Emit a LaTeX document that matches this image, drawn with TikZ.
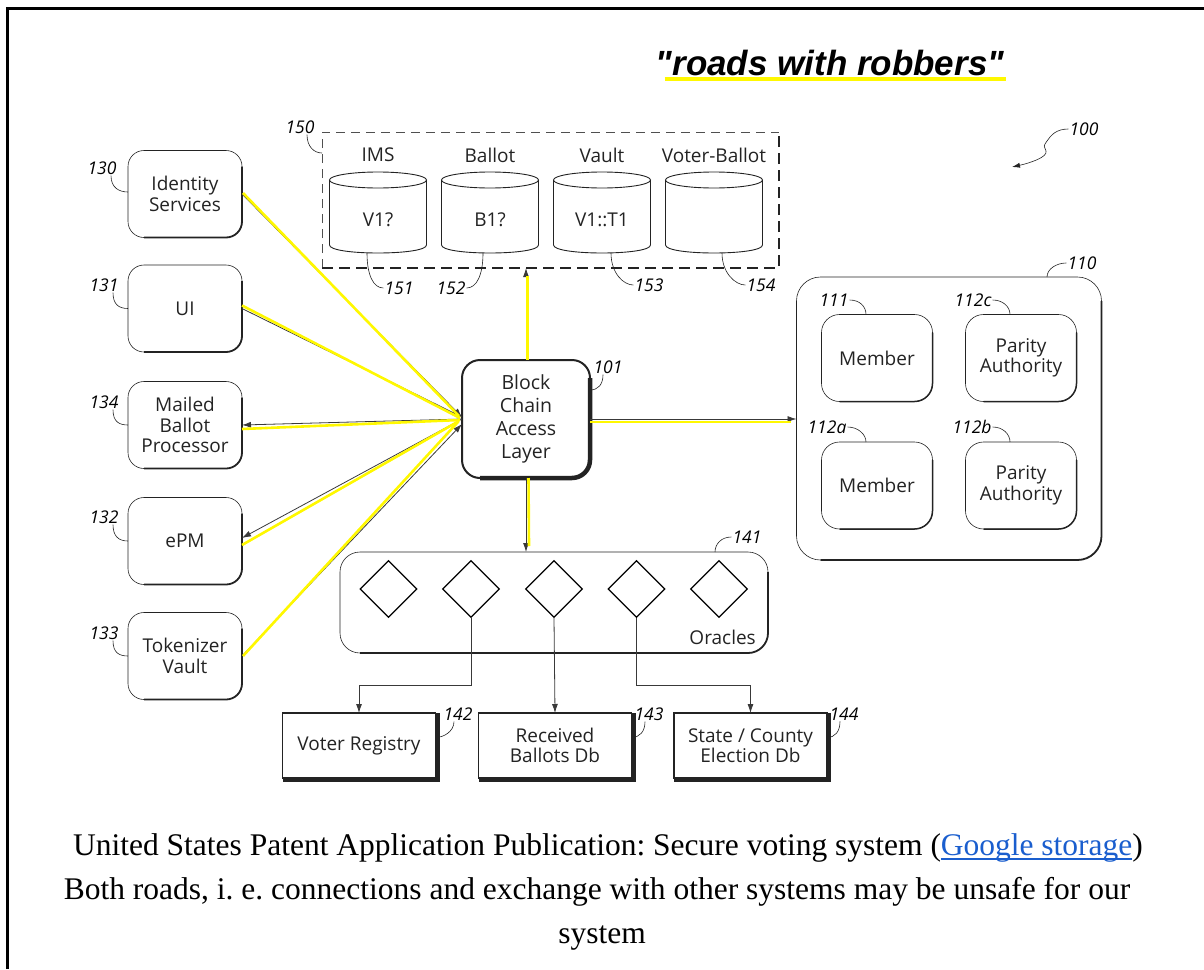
\documentclass[tikz,border=0pt]{standalone}
\usepackage{fontspec}
\setmainfont{Liberation Serif}
\newfontfamily\dfont{Open Sans}
\newfontfamily\tfont{Liberation Sans}
\usetikzlibrary{arrows.meta,shapes.geometric,calc}
\definecolor{ink}{RGB}{35,35,35}
\definecolor{hl}{RGB}{255,248,0}
\definecolor{linkblue}{RGB}{26,94,206}
\frenchspacing
\newcommand{\dtext}{\dfont\fontsize{19}{20.5}\selectfont}
\newcommand{\ntext}{\dfont\itshape\fontsize{17.5}{17.5}\selectfont}
\newsavebox{\lkbox}
\newcommand{\ulk}[1]{\sbox{\lkbox}{#1}\rlap{\rule[-4.5pt]{\wd\lkbox}{1.8pt}}\usebox{\lkbox}}
\newcommand{\heavyedge}[3]{\draw[ink, line width=#3, rounded corners=#2] ([yshift=-#2]#1.north east) -- (#1.south east) -- ([xshift=#2]#1.south west);}
\newcommand{\sharpedge}[1]{\draw[ink, line width=4.5pt] ([xshift=2pt]#1.north east) -- ([xshift=2pt,yshift=-2pt]#1.south east) -- ([yshift=-2pt]#1.south west);}
\newcommand{\drawcyl}[1]{%
 \draw[cylline] ($(#1.north)+(0,8)$) ellipse [x radius=48.5, y radius=8];
 \draw[cylline] ($(#1.north west)+(0,8)$) -- ($(#1.south west)+(0,-8)$) .. controls ($(#1.south west)+(0,2.67)$) and ($(#1.south east)+(0,2.67)$) .. ($(#1.south east)+(0,-8)$) -- ($(#1.north east)+(0,8)$);}
\tikzset{
 rbox/.style={draw=ink, line width=0.6pt, rounded corners=16pt, minimum width=114pt, minimum height=87pt, inner sep=0pt, outer sep=0pt, align=center, text=ink, font=\dtext},
 mbox/.style={rbox, minimum width=111pt, minimum height=87pt, rounded corners=18pt},
 sbox/.style={draw=ink, line width=1.2pt, minimum width=153pt, minimum height=65pt, inner sep=0pt, outer sep=0pt, align=center, text=ink, font=\dtext},
 num/.style={font=\ntext, text=black, inner sep=1pt},
 lbl/.style={font=\dtext, text=ink, inner sep=0pt},
 lead/.style={draw=ink, line width=0.6pt},
 conn/.style={draw=ink!90, line width=0.8pt},
 arr/.style={-{Latex[length=9pt,width=6pt]}},
 hlline/.style={draw=hl, line width=2.6pt},
 dia/.style={diamond, draw=black, line width=1.3pt, minimum width=57pt, minimum height=57pt, inner sep=0pt},
 cylbox/.style={minimum width=97pt, minimum height=81pt, inner sep=0pt, outer sep=0pt},
 cylline/.style={draw=ink, line width=0.9pt},
 captxt/.style={anchor=base, inner sep=0pt, font=\fontsize{31.5}{31.5}\selectfont},
}
\begin{document}
\begin{tikzpicture}[x=1pt,y=-1pt]
\useasboundingbox (0,0) rectangle (1204,969);
% frame
\draw[black, line width=3pt] (7,969) -- (7,8) -- (1204,8);
% title
\node[font=\tfont\bfseries\itshape\fontsize{35}{35}\selectfont, anchor=base, inner sep=0pt] (ttl) at (830,75) {"roads with robbers"};
\draw[hl, line width=3.5pt] ([xshift=9pt,yshift=-4pt]ttl.base west) -- ([xshift=2pt,yshift=-4pt]ttl.base east);
% reference 100
\node[num] (L100) at (1084,129) {100};
\coordinate (p100) at (1012,167);
\draw[lead, -{Latex[length=8pt,width=5pt]}] (L100.west) .. controls +(-12,0) and +(4,-6) .. (1047,141) .. controls +(-4,6) and +(-2,-6) .. (1046,151) .. controls +(2,6) and +(18,-4) .. (p100);
% left column
\node[rbox] (ids) at (185,194) {Identity\\Services};
\node[rbox] (ui) at (185,308.5) {UI};
\node[rbox] (mbp) at (185,425) {Mailed\\Ballot\\Processor};
\node[rbox] (epm) at (185,541) {ePM};
\node[rbox] (tok) at (185,656) {Tokenizer\\Vault};
\foreach \n in {ids,ui,mbp,epm,tok} {\heavyedge{\n}{16pt}{1.8pt}}
% block chain access layer
\node[rbox, minimum width=128pt, minimum height=118pt, line width=2pt, rounded corners=18pt, font=\dfont\fontsize{19.5}{23}\selectfont] (bcal) at (526,419) {Block\\Chain\\Access\\Layer};
\heavyedge{bcal}{18pt}{4.5pt}
% storage group
\node[minimum width=457pt, minimum height=136pt, inner sep=0pt, outer sep=0pt] (store) at (550.5,200) {};
\draw[ink!80, line width=0.7pt, dash pattern=on 9pt off 6pt] (store.south west) -- (store.north west) -- (store.north east);
\draw[ink, line width=2.4pt, dash pattern=on 11pt off 6pt] (store.south west) -- (store.south east) -- (store.north east);
\node[cylbox] (c151) at (378,212.5) {};
\node[cylbox] (c152) at (490,212.5) {};
\node[cylbox] (c153) at (602,212.5) {};
\node[cylbox] (c154) at (714,212.5) {};
\drawcyl{c151}\drawcyl{c152}\drawcyl{c153}\drawcyl{c154}
\node[lbl] (h151) at (378,155) {IMS};
\node[lbl] (h152) at (490,155) {Ballot};
\node[lbl] (h153) at (602,155) {Vault};
\node[lbl] (h154) at (714,155) {Voter-Ballot};
\node[lbl] (v151) at (378,220) {V1?};
\node[lbl] (v152) at (490,220) {B1?};
\node[lbl] (v153) at (602,220) {V1::T1};
% oracles
\node[rbox, minimum width=428pt, minimum height=101pt, rounded corners=20pt] (orc) at (554,602.5) {};
\heavyedge{orc}{20pt}{1.8pt}
\node[lbl, anchor=east] (orl) at (756,637) {Oracles};
\node[dia] (d1) at (388.5,589) {};
\node[dia] (d2) at (471,589) {};
\node[dia] (d3) at (554,589) {};
\node[dia] (d4) at (636.5,589) {};
\node[dia] (d5) at (719,589) {};
% bottom databases
\node[sbox] (vr) at (359,745.5) {Voter Registry};
\node[sbox] (rb) at (555,745.5) {Received\\Ballots Db};
\node[sbox] (sc) at (750.5,745.5) {State / County\\Election Db};
\sharpedge{vr}\sharpedge{rb}\sharpedge{sc}
% blockchain network
\node[rbox, minimum width=305pt, minimum height=283pt, rounded corners=24pt] (bc) at (949,418.5) {};
\heavyedge{bc}{24pt}{1.8pt}
\node[mbox] (m111) at (877,358) {Member};
\node[mbox] (p112c) at (1021,358) {Parity\\Authority};
\node[mbox] (m112a) at (877,485.5) {Member};
\node[mbox] (p112b) at (1021,485.5) {Parity\\Authority};
\foreach \n in {m111,p112c,m112a,p112b} {\heavyedge{\n}{18pt}{1.5pt}}
% black connectors
\draw[conn, arr] (ids.east) -- ([yshift=2pt]bcal.west);
\draw[conn, arr] (ui.east) -- ([yshift=2pt]bcal.west);
\draw[conn, arr] (bcal.west) -- (mbp.east);
\draw[conn, arr] (bcal.west) -- ([yshift=3pt]epm.east);
\draw[conn, arr] (tok.east) -- ([yshift=-5pt]bcal.west);
\draw[conn, arr] (bcal.north) -- (bcal.north |- store.south);
\draw[conn, arr] (bcal.south) -- (bcal.south |- orc.north);
\draw[conn, arr] (bcal.east) -- (bcal.east -| bc.west);
\draw[conn, arr] (d2.south) -- ++(0,67) -| (vr.north);
\draw[conn, arr] (d3.south) -- (rb.north);
\draw[conn, arr] (d4.south) -- ++(0,67) -| (sc.north);
% yellow highlights
\draw[hlline] ([xshift=1pt,yshift=1pt]ids.east) -- ([xshift=-3pt,yshift=3pt]bcal.west);
\draw[hlline] ([yshift=3pt]ui.east) -- ([xshift=-2pt,yshift=1pt]bcal.west);
\draw[hlline] ([yshift=-4pt]mbp.east) -- ([xshift=-2pt,yshift=-1pt]bcal.west);
\draw[hlline] ([yshift=-4pt]epm.east) -- ([xshift=-3pt,yshift=-2pt]bcal.west);
\draw[hlline] ([xshift=1pt]tok.east) -- ([xshift=-4pt,yshift=-3pt]bcal.west);
\draw[hlline] ([xshift=1.5pt]bcal.north) -- ([xshift=1.5pt,yshift=-8pt]bcal.north |- store.south);
\draw[hlline] ([xshift=2.5pt]bcal.south) -- ([xshift=3pt,yshift=6pt]bcal.south |- orc.north);
\draw[hlline] ([yshift=-3pt]bcal.east) -- ([xshift=-6pt,yshift=-3pt]bcal.east -| bc.west);
% reference numerals
\node[num] (L150) at (300,127) {150};
\draw[lead] ([xshift=7pt]L150.south) .. controls +(0,12) and +(-8,0) .. ([yshift=-21pt]store.north west);
\node[num] (L130) at (102,168) {130};
\draw[lead] ([xshift=9pt]L130.south) .. controls +(0,12) and +(-9,0) .. ([yshift=2pt]ids.west);
\node[num] (L131) at (104,285) {131};
\draw[lead] ([xshift=9pt]L131.south) .. controls +(0,12) and +(-9,0) .. (ui.west);
\node[num] (L134) at (104,402) {134};
\draw[lead] ([xshift=9pt]L134.south) .. controls +(0,12) and +(-9,0) .. (mbp.west);
\node[num] (L132) at (104,517) {132};
\draw[lead] ([xshift=9pt]L132.south) .. controls +(0,12) and +(-9,0) .. (epm.west);
\node[num] (L133) at (104,633) {133};
\draw[lead] ([xshift=9pt]L133.south) .. controls +(0,12) and +(-9,0) .. (tok.west);
\node[num] (L151) at (399,288) {151};
\draw[lead] ([xshift=-11pt]c151.south) .. controls +(0,22) and +(-10,0) .. (L151.west);
\node[num] (L152) at (451,288) {152};
\draw[lead] (L152.east) .. controls +(10,0) and +(0,22) .. ([xshift=-7pt]c152.south);
\node[num] (L153) at (649,285) {153};
\draw[lead] ([xshift=9pt]c153.south) .. controls +(0,20) and +(-10,0) .. (L153.west);
\node[num] (L154) at (761,285) {154};
\draw[lead] ([xshift=8pt]c154.south) .. controls +(0,20) and +(-10,0) .. (L154.west);
\node[num] (L101) at (608,367) {101};
\draw[lead] ([xshift=-5pt]L101.south) .. controls +(0,10) and +(8,0) .. ([yshift=29pt]bcal.east);
\node[num] (L110) at (1082,263) {110};
\draw[lead] (L110.west) .. controls +(-10,0) and +(0,-8) .. ([xshift=98pt]bc.north);
\node[num] (L111) at (834,300) {111};
\draw[lead] (L111.east) .. controls +(10,0) and +(0,-8) .. ([xshift=-11pt]m111.north);
\node[num] (L112c) at (973,300) {112c};
\draw[lead] (L112c.east) .. controls +(10,0) and +(0,-8) .. ([xshift=-11pt]p112c.north);
\node[num] (L112a) at (827,427) {112a};
\draw[lead] (L112a.east) .. controls +(10,0) and +(0,-8) .. ([xshift=-11pt]m112a.north);
\node[num] (L112b) at (972,427) {112b};
\draw[lead] (L112b.east) .. controls +(10,0) and +(0,-8) .. ([xshift=-11pt]p112b.north);
\node[num] (L141) at (747,537) {141};
\draw[lead] (L141.west) .. controls +(-10,0) and +(0,-8) .. ([xshift=161pt]orc.north);
\node[num] (L142) at (458,714) {142};
\draw[lead] ([xshift=-4pt]L142.south) .. controls +(0,10) and +(8,0) .. ([yshift=8pt]vr.east);
\node[num] (L143) at (649,714) {143};
\draw[lead] ([xshift=-4pt]L143.south) .. controls +(0,10) and +(8,0) .. ([yshift=8pt]rb.east);
\node[num] (L144) at (844,714) {144};
\draw[lead] ([xshift=-4pt]L144.south) .. controls +(0,10) and +(8,0) .. ([yshift=8pt]sc.east);
% caption
\node[captxt] (cap1) at (608,855) {United States Patent Application Publication: Secure voting system (\textcolor{linkblue}{\ulk{Google storage}})};
\node[captxt] (cap2) at (597,899) {Both roads, i. e. connections and exchange with other systems may be unsafe for our};
\node[captxt] (cap3) at (602,943) {system};
\end{tikzpicture}
\end{document}
